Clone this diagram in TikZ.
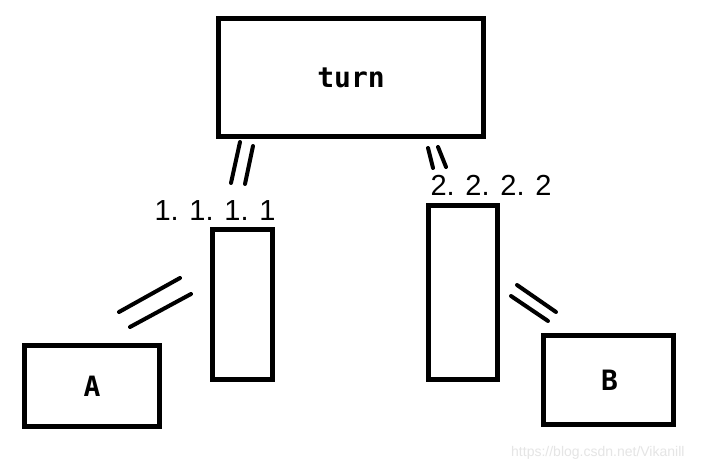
\documentclass[tikz,border=0pt]{standalone}
\usepackage{fontspec}
\newfontfamily\boxfont{DejaVu Sans Mono}
\newfontfamily\labfont[WordSpace=1.3]{Liberation Sans}
\newfontfamily\wmfont{Liberation Sans}
\begin{document}
\begin{tikzpicture}[x=1pt,y=-1pt,
  box/.style={draw, line width=5pt, inner sep=0pt, font=\boxfont\bfseries\fontsize{28}{30}\selectfont},
  lab/.style={inner sep=0pt, anchor=base, font=\labfont\fontsize{29}{31}\selectfont},
  link/.style={line width=4pt, line cap=round},
  wm/.style={inner sep=0pt, anchor=base west, text=black!10, font=\wmfont\fontsize{14}{16}\selectfont}]
\useasboundingbox (0,0) rectangle (718,470);
\fill[white] (0,0) rectangle (718,470);
% boxes
\node[box, minimum width=265pt, minimum height=118pt] (turn) at (351,77.5) {\raisebox{-2.5pt}{turn}};
\node[box, minimum width=60pt, minimum height=150pt] (mid1) at (242.5,304.5) {};
\node[box, minimum width=69pt, minimum height=174pt] (mid2) at (463,292.5) {};
\node[box, minimum width=135pt, minimum height=81pt] (A) at (92,386) {A};
\node[box, minimum width=130pt, minimum height=89.5pt] (B) at (608,380) {\raisebox{-2.5pt}{\hspace{3pt}B}};
% labels
\node[lab] (l1) at (215,221) {1. 1. 1. 1};
\node[lab] (l2) at (491,196) {2. 2. 2. 2};
\node[wm] (wm) at (511,456) {https://blog.csdn.net/Vikanill};
% double-line links
\coordinate (t1a) at (231,183); \coordinate (t1b) at (240,142);
\coordinate (t2a) at (245,184); \coordinate (t2b) at (253,146);
\draw[link] (t1a) -- (t1b);
\draw[link] (t2a) -- (t2b);
\coordinate (r1a) at (428,148); \coordinate (r1b) at (433,168);
\coordinate (r2a) at (438,147); \coordinate (r2b) at (446,167);
\draw[link] (r1a) -- (r1b);
\draw[link] (r2a) -- (r2b);
\coordinate (a1a) at (119,312); \coordinate (a1b) at (180,278);
\coordinate (a2a) at (130,327); \coordinate (a2b) at (191,294);
\draw[link] (a1a) -- (a1b);
\draw[link] (a2a) -- (a2b);
\coordinate (b1a) at (517,285); \coordinate (b1b) at (556,312);
\coordinate (b2a) at (511,296); \coordinate (b2b) at (548,321);
\draw[link] (b1a) -- (b1b);
\draw[link] (b2a) -- (b2b);
\end{tikzpicture}
\end{document}
